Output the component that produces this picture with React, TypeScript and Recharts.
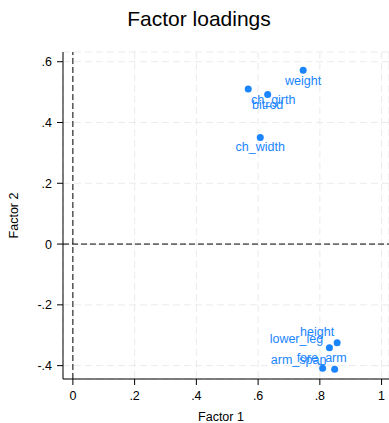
import { CartesianGrid, ReferenceLine, Scatter, ScatterChart, XAxis, YAxis } from "recharts"

const variables = ["bitrod", "ch_girth", "ch_width", "weight", "height", "lower_leg", "fore_arm", "arm_span"]
const factor1 = [0.631, 0.568, 0.607, 0.746, 0.856, 0.831, 0.848, 0.809]
const factor2 = [0.492, 0.51, 0.351, 0.572, -0.325, -0.341, -0.412, -0.409]
const xTicks = [0, 0.2, 0.4, 0.6, 0.8, 1]
const yTicks = [-0.4, -0.2, 0, 0.2, 0.4, 0.6]

const data = variables.map((name, i) => ({ name, f1: factor1[i], f2: factor2[i] }))

const font = "'Liberation Sans', Arial, Helvetica, sans-serif"
const blue = "#1a85ff"

// where each marker label sits relative to its dot (px), like the original layout
const labelOffset: Record<string, [number, number]> = {
  bitrod: [0, 14],
  ch_girth: [25, 15],
  ch_width: [0, 14],
  weight: [0, 15],
  height: [-20, -7],
  lower_leg: [-33, -5],
  fore_arm: [-13, -7],
  arm_span: [-24, -4],
}

// stata style: drop the leading zero
const fmt = (v: number) => String(Number(v.toFixed(1))).replace(/^(-?)0\./, "$1.")

function Marker(props: any) {
  const { cx, cy, payload } = props
  const [dx, dy] = labelOffset[payload.name] ?? [0, 14]
  return (
    <g>
      <circle cx={cx} cy={cy} r={3.5} fill={blue} />
      <text x={cx + dx} y={cy + dy} textAnchor="middle" fontSize={12.5} fontFamily={font} fill={blue}>
        {payload.name}
      </text>
    </g>
  )
}

export default function App() {
  return (
    <div style={{ position: "absolute", left: 0, top: 0, width: 389, height: 423, background: "#fff" }}>
      <svg width={389} height={40} style={{ position: "absolute", left: 0, top: 0 }}>
        <text x={199} y={26} textAnchor="middle" fontSize={21} fontFamily={font} fill="#000">
          Factor loadings
        </text>
      </svg>
      <ScatterChart width={389} height={423} margin={{ top: 52, right: 0, bottom: 0, left: 0 }}>
        <CartesianGrid stroke="#ebebeb" strokeDasharray="7 4" />
        <XAxis
          type="number"
          dataKey="f1"
          domain={[-0.032, 1.024]}
          allowDataOverflow
          ticks={xTicks}
          tickFormatter={fmt}
          height={44}
          stroke="#000"
          tickSize={6}
          tickMargin={6}
          tick={{ fontSize: 12.5, fill: "#000", fontFamily: font }}
          label={({ viewBox }: any) => (
            <text
              x={viewBox.x + viewBox.width / 2 - 5}
              y={viewBox.y + 42}
              textAnchor="middle"
              fontSize={12.5}
              fontFamily={font}
              fill="#000"
            >
              Factor 1
            </text>
          )}
        />
        <YAxis
          type="number"
          dataKey="f2"
          domain={[-0.444, 0.632]}
          allowDataOverflow
          ticks={yTicks}
          tickFormatter={fmt}
          width={63}
          stroke="#000"
          tickSize={6}
          tickMargin={5}
          tick={{ fontSize: 12.5, fill: "#000", fontFamily: font }}
          label={({ viewBox }: any) => {
            const cx = 18
            const cy = viewBox.y + viewBox.height / 2
            return (
              <text
                x={cx}
                y={cy}
                transform={`rotate(-90, ${cx}, ${cy})`}
                textAnchor="middle"
                fontSize={12.5}
                fontFamily={font}
                fill="#000"
              >
                Factor 2
              </text>
            )
          }}
        />
        <ReferenceLine x={0} stroke="#000" strokeDasharray="6 3" />
        <ReferenceLine y={0} stroke="#000" strokeDasharray="6 3" />
        <Scatter data={data} shape={<Marker />} isAnimationActive={false} />
      </ScatterChart>
    </div>
  )
}
